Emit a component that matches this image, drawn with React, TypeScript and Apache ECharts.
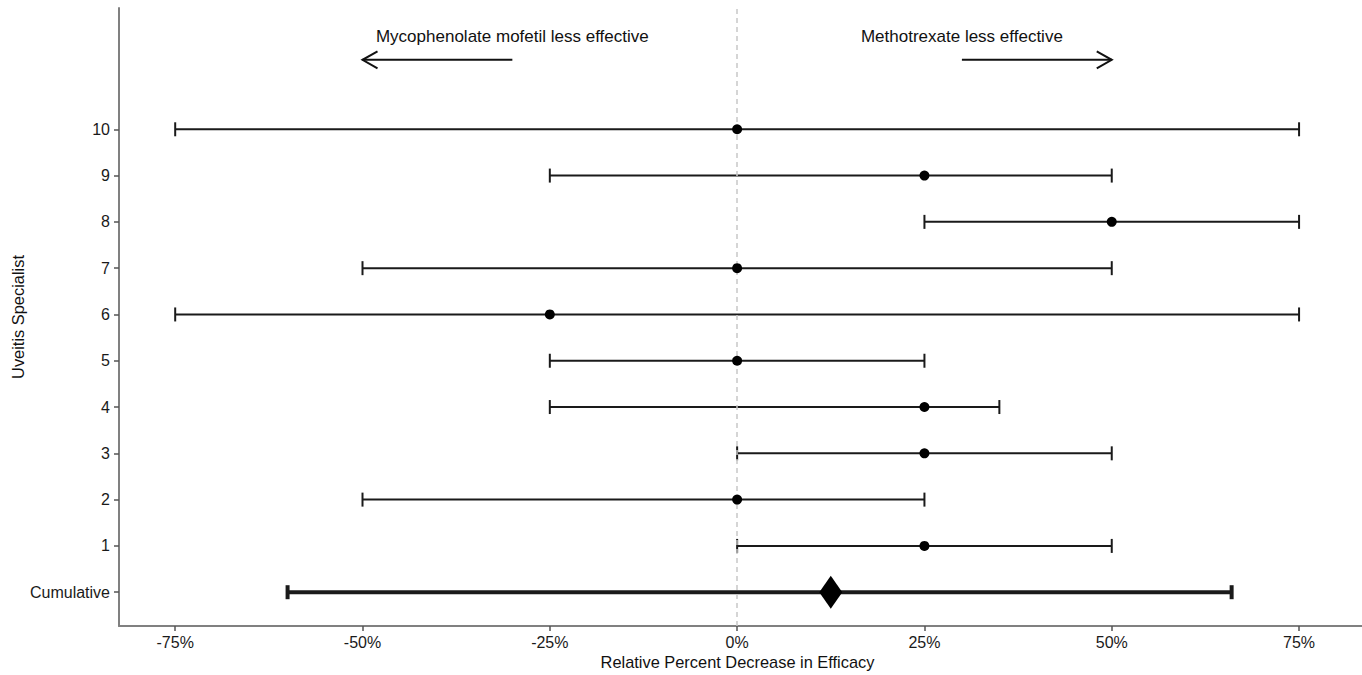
import React, { useEffect, useRef } from "react";
import * as echarts from "echarts";

const rowLabels = ["Cumulative", "1", "2", "3", "4", "5", "6", "7", "8", "9", "10"];
const rowPositions = [0, 1, 2, 3, 4, 5, 6, 7, 8, 9, 10];
const lowers = [-60, 0, -50, 0, -25, -25, -75, -50, 25, -25, -75];
const estimates = [12.5, 25, 0, 25, 25, 0, -25, 0, 50, 25, 0];
const uppers = [66, 50, 25, 50, 35, 25, 75, 50, 75, 50, 75];
const xTicks = [-75, -50, -25, 0, 25, 50, 75];

const annotationTexts = ["Mycophenolate mofetil less effective", "Methotrexate less effective"];
const annotationX = [-30, 30];
const annotationY = 12;
const arrowFrom = [-30, 30];
const arrowTo = [-50, 50];
const arrowY = 11.5;

const FONT = "Liberation Sans, Arial, sans-serif";
const FS = 16;

export default function App() {
  const ref = useRef<HTMLDivElement>(null);
  useEffect(() => {
    if (!ref.current) return;
    const chart = echarts.init(ref.current, null, { renderer: "svg" });

    const barData = rowPositions.slice(1).map((y, i) => [lowers[i + 1], uppers[i + 1], y]);
    const cumData = [[lowers[0], uppers[0], rowPositions[0]]];
    const pointData = rowPositions.slice(1).map((y, i) => [estimates[i + 1], y]);
    const diamondData = [[estimates[0], rowPositions[0]]];
    const arrowData = arrowFrom.map((f, i) => [f, arrowTo[i], arrowY]);
    const textData = annotationX.map((x, i) => [x, annotationY, i]);

    const makeBars = (lw: number, cap: number) => (params: any, api: any) => {
      const lo = api.coord([api.value(0), api.value(2)]);
      const hi = api.coord([api.value(1), api.value(2)]);
      const style = { stroke: "#1a1a1a", lineWidth: lw };
      return {
        type: "group",
        children: [
          { type: "line", shape: { x1: lo[0], y1: lo[1], x2: hi[0], y2: hi[1] }, style },
          { type: "line", shape: { x1: lo[0], y1: lo[1] - cap, x2: lo[0], y2: lo[1] + cap }, style },
          { type: "line", shape: { x1: hi[0], y1: hi[1] - cap, x2: hi[0], y2: hi[1] + cap }, style },
        ],
      };
    };

    chart.setOption({
      animation: false,
      grid: { left: 119, right: 0, top: 8, bottom: 49, outerBoundsMode: "none", containLabel: false },
      xAxis: {
        type: "value",
        min: -82.5,
        max: 83.4,
        name: "Relative Percent Decrease in Efficacy",
        nameLocation: "middle",
        nameGap: 28,
        nameMoveOverlap: false,
        nameTextStyle: { color: "#111", fontSize: 16.4, fontFamily: FONT, padding: [0, 6, 0, 0] },
        splitLine: { show: false },
        axisLine: { show: true, onZero: false, lineStyle: { color: "#808080", width: 2 } },
        axisTick: { show: true, length: 5, customValues: xTicks, lineStyle: { color: "#555", width: 1.5 } },
        axisLabel: {
          customValues: xTicks,
          formatter: (v: number) => `${v}%`,
          color: "#1a1a1a",
          fontSize: FS,
          fontFamily: FONT,
          margin: 8,
        },
      },
      yAxis: {
        type: "value",
        min: -0.73,
        max: 12.62,
        name: "Uveitis Specialist",
        nameLocation: "middle",
        nameRotate: 90,
        nameGap: 93,
        nameMoveOverlap: false,
        nameTextStyle: { color: "#111", fontSize: 16.4, fontFamily: FONT },
        splitLine: { show: false },
        axisLine: { show: true, onZero: false, lineStyle: { color: "#808080", width: 2 } },
        axisTick: { show: true, length: 5, customValues: rowPositions, lineStyle: { color: "#555", width: 1.5 } },
        axisLabel: {
          customValues: rowPositions,
          formatter: (v: number) => rowLabels[rowPositions.indexOf(Math.round(v))] ?? "",
          color: "#1a1a1a",
          fontSize: FS,
          fontFamily: FONT,
          margin: 9,
        },
      },
      series: [
        {
          type: "scatter",
          data: [],
          silent: true,
          markLine: {
            silent: true,
            symbol: "none",
            label: { show: false },
            lineStyle: { color: "#c8c8c8", type: [5, 4], width: 1.5 },
            data: [{ xAxis: 0 }],
          },
        },
        {
          type: "custom",
          silent: true,
          renderItem: makeBars(2, 7),
          data: barData,
          encode: { x: [0, 1], y: 2 },
        },
        {
          type: "custom",
          silent: true,
          renderItem: makeBars(4, 7),
          data: cumData,
          encode: { x: [0, 1], y: 2 },
        },
        {
          type: "scatter",
          silent: true,
          symbol: "circle",
          symbolSize: 10,
          itemStyle: { color: "#000", opacity: 1 },
          data: pointData,
          z: 5,
        },
        {
          type: "scatter",
          silent: true,
          symbol: "diamond",
          symbolSize: [23, 33],
          itemStyle: { color: "#000", opacity: 1 },
          data: diamondData,
          z: 5,
        },
        {
          type: "custom",
          silent: true,
          data: arrowData,
          encode: { x: [0, 1], y: 2 },
          renderItem: (params: any, api: any) => {
            const a = api.coord([api.value(0), api.value(2)]);
            const b = api.coord([api.value(1), api.value(2)]);
            const dir = b[0] > a[0] ? 1 : -1;
            const style = { stroke: "#111", lineWidth: 2, fill: "none" };
            return {
              type: "group",
              children: [
                { type: "line", shape: { x1: a[0], y1: a[1], x2: b[0], y2: b[1] }, style },
                {
                  type: "polyline",
                  shape: {
                    points: [
                      [b[0] - dir * 15, b[1] - 8.5],
                      [b[0], b[1]],
                      [b[0] - dir * 15, b[1] + 8.5],
                    ],
                  },
                  style,
                },
              ],
            };
          },
        },
        {
          type: "custom",
          silent: true,
          data: textData,
          encode: { x: 0, y: 1 },
          renderItem: (params: any, api: any) => {
            const p = api.coord([api.value(0), api.value(1)]);
            return {
              type: "text",
              x: p[0],
              y: p[1],
              style: {
                text: annotationTexts[api.value(2)],
                fill: "#111",
                fontSize: 17,
                fontFamily: FONT,
                align: "center",
                verticalAlign: "middle",
              },
            };
          },
        },
      ],
    });
    return () => chart.dispose();
  }, []);
  return (
    <div
      ref={ref}
      style={{ position: "absolute", left: 0, top: 0, width: 1362, height: 675, background: "#fff" }}
    />
  );
}
